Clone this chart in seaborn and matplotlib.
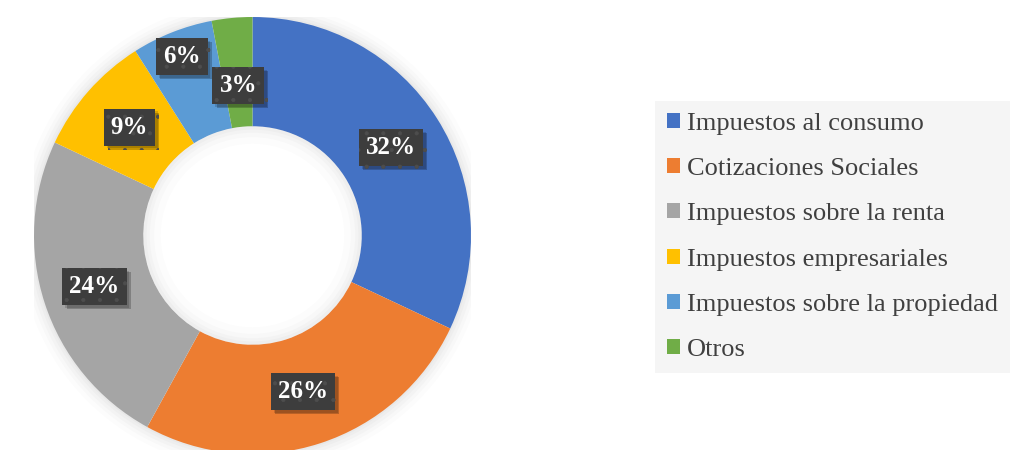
import matplotlib
matplotlib.use("Agg")
import matplotlib.pyplot as plt
import matplotlib.patheffects as pe
from matplotlib.patches import Patch, Wedge
import numpy as np
import seaborn as sns

# Composition of tax revenue (% of total)
categories = [
    "Impuestos al consumo",
    "Cotizaciones Sociales",
    "Impuestos sobre la renta",
    "Impuestos empresariales",
    "Impuestos sobre la propiedad",
    "Otros",
]
shares = [32, 26, 24, 9, 6, 3]
colors = ["#4472C4", "#ED7D31", "#A5A5A5", "#FFC000", "#5B9BD5", "#70AD47"]

sns.set_theme(style="white")
plt.rcParams["font.family"] = ["Liberation Serif", "DejaVu Serif"]
plt.rcParams["hatch.linewidth"] = 0.5
palette = sns.color_palette(colors)

W, H = 1018, 450
fig = plt.figure(figsize=(W / 100, H / 100), dpi=100)
fig.patch.set_facecolor("white")

# donut centred at (252.5, 235.5) px with outer radius 218.5 px
cx, cy, R = 252.5, 235.5, 218.5
ax = fig.add_axes([(cx - R) / W, (H - cy - R) / H, 2 * R / W, 2 * R / H])

# soft glow around the ring
for r, a in [(1.07, 0.025), (1.05, 0.03), (1.035, 0.035), (1.02, 0.04), (1.008, 0.05)]:
    ax.add_patch(Wedge((0, 0), r, 0, 360, width=r - 0.99, color="#808080",
                       alpha=a, lw=0, zorder=0))

hole = 0.5
wedges, _ = ax.pie(shares, colors=palette, startangle=90, counterclock=False,
                   radius=1, wedgeprops=dict(width=1 - hole, linewidth=0))

# inner shading of the hole
for w, a in [(0.08, 0.025), (0.05, 0.03), (0.03, 0.035), (0.015, 0.045)]:
    ax.add_patch(Wedge((0, 0), hole, 0, 360, width=w, color="#808080",
                       alpha=a, lw=0, zorder=3))

# radial placement of each value label
label_r = [0.75, 0.75, 0.76, 0.75, 0.88, 0.69]
shadow = [pe.SimplePatchShadow(offset=(3, -3), shadow_rgbFace="black", alpha=0.22),
          pe.SimplePatchShadow(offset=(2, -2), shadow_rgbFace="black", alpha=0.15),
          pe.Normal()]
for wdg, v, rr in zip(wedges, shares, label_r):
    mid = np.deg2rad((wdg.theta1 + wdg.theta2) / 2)
    t = ax.text(rr * np.cos(mid), rr * np.sin(mid), f"{v}%", ha="center",
                va="center", color="white", fontsize=18, fontweight="bold",
                zorder=6,
                bbox=dict(boxstyle="square,pad=0.28", fc="#3d3d3d", ec="#4d4d4d",
                          lw=0, hatch="."))
    t.get_bbox_patch().set_path_effects(shadow)

ax.set_xlim(-1, 1)
ax.set_ylim(-1, 1)
ax.set_axis_off()

handles = [Patch(facecolor=c, edgecolor="none") for c in palette]
fig.legend(handles, categories, loc="upper left",
           bbox_to_anchor=(655 / W, 1 - 101 / H), bbox_transform=fig.transFigure,
           frameon=True, fancybox=False, facecolor="#f5f5f5", edgecolor="none",
           framealpha=1, fontsize=19, handlelength=0.5, handleheight=0.5,
           handletextpad=0.25, labelspacing=0.88, borderpad=0.45, borderaxespad=0,
           labelcolor="#404040")

fig.savefig("out.png", dpi=100, facecolor="white")
